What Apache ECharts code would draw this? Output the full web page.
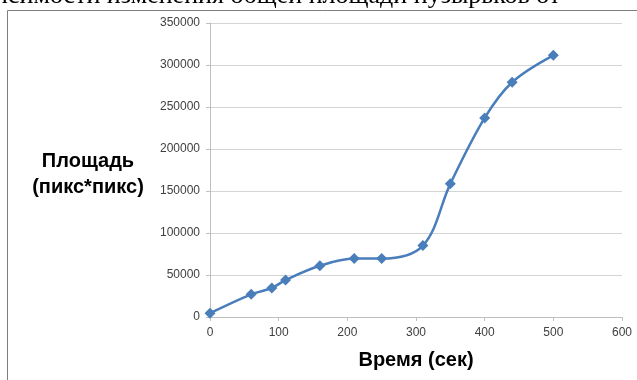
<!DOCTYPE html>
<html>
<head>
<meta charset="utf-8">
<script src="https://cdn.jsdelivr.net/npm/echarts@6/dist/echarts.min.js"></script>
<style>
html,body{margin:0;padding:0;background:#fff;}
#chart{width:637px;height:380px;}
</style>
</head>
<body>
<div id="chart"></div>
<script>
// Data
const timeSec = [0, 60, 90, 110, 160, 210, 250, 310, 350, 400, 440, 500];
const areaPx = [4500, 27000, 34500, 44000, 61000, 69500, 69500, 85000, 158500, 237000, 279500, 311500];
const xTicks = [0, 100, 200, 300, 400, 500, 600];
const yTicks = [0, 50000, 100000, 150000, 200000, 250000, 300000, 350000];
const xTitle = 'Время (сек)';
const yTitle = 'Площадь\n(пикс*пикс)';
const cutTitle = 'зависимости изменения общей площади пузырьков от';

const chart = echarts.init(document.getElementById('chart'), null, {renderer: 'canvas'});
const labelFont = {fontFamily: 'Liberation Sans, Arial, sans-serif', fontSize: 12, color: '#404040'};

chart.setOption({
  animation: false,
  backgroundColor: '#fff',
  grid: {left: 210, right: 15, top: 23, bottom: 63, containLabel: false},
  xAxis: {
    type: 'value', min: xTicks[0], max: xTicks[xTicks.length - 1], interval: 100,
    axisLine: {show: true, lineStyle: {color: '#bfbfbf', width: 1}},
    axisTick: {show: true, length: 4, lineStyle: {color: '#bfbfbf'}},
    axisLabel: Object.assign({margin: 10, formatter: v => String(v)}, labelFont),
    splitLine: {show: false},
    name: xTitle, nameLocation: 'middle', nameGap: 33,
    nameTextStyle: {fontFamily: 'Liberation Sans, Arial, sans-serif', fontSize: 20, fontWeight: 'bold', color: '#000'}
  },
  yAxis: {
    type: 'value', min: yTicks[0], max: yTicks[yTicks.length - 1], interval: 50000,
    axisLine: {show: true, lineStyle: {color: '#bfbfbf', width: 1}},
    axisTick: {show: true, length: 4, lineStyle: {color: '#bfbfbf'}},
    axisLabel: Object.assign({margin: 10, formatter: v => String(v)}, labelFont),
    splitLine: {show: true, lineStyle: {color: '#d4d4d4', width: 1}}
  },
  graphic: [
    {type: 'rect', shape: {x: 7.5, y: 10.5, width: 700, height: 400}, style: {fill: 'none', stroke: '#7f7f7f', lineWidth: 1}, z: -1},
    {type: 'text', x: 88, y: 148, style: {text: yTitle, fontFamily: 'Liberation Sans, Arial, sans-serif', fontSize: 20, fontWeight: 'bold', fill: '#000', align: 'center', lineHeight: 26}},
    {type: 'text', x: -40, y: -17, style: {text: cutTitle, fontFamily: 'Liberation Serif, Times New Roman, serif', fontSize: 26, fill: '#000'}}
  ],
  series: [{
    type: 'line',
    data: timeSec.map((t, i) => [t, areaPx[i]]),
    smooth: 0.35,
    symbol: 'diamond',
    symbolSize: 11,
    lineStyle: {color: '#4a7ebb', width: 2.5},
    itemStyle: {color: '#4a7ebb'}
  }]
});
</script>
</body>
</html>
